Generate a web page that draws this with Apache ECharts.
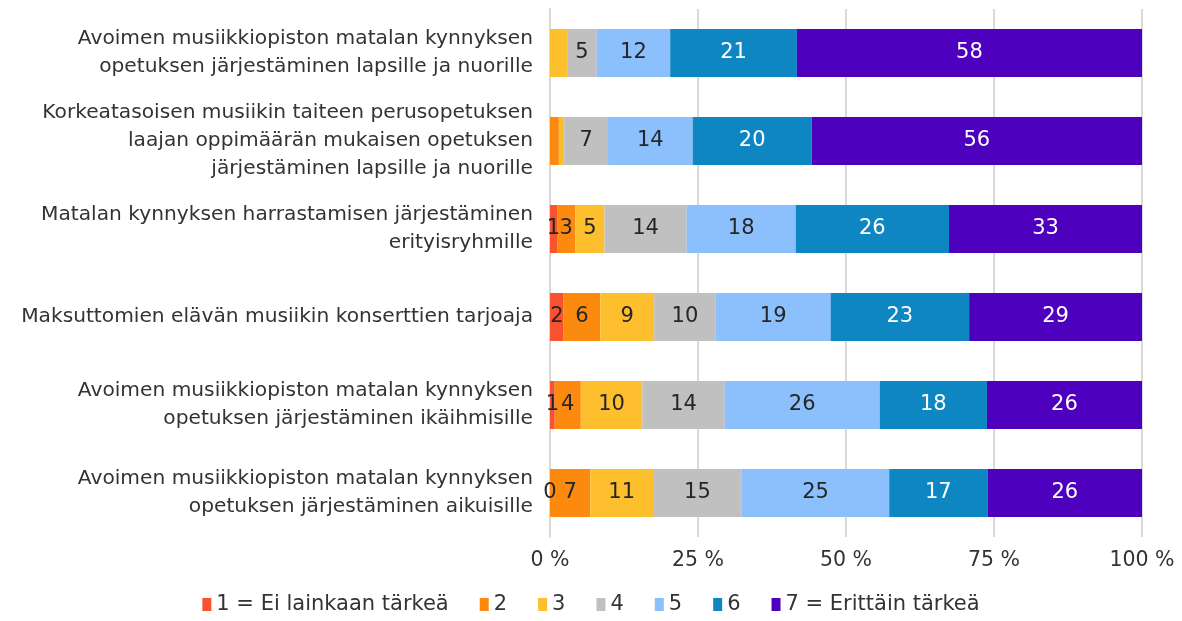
<!DOCTYPE html>
<html>
<head>
<meta charset="utf-8">
<script src="https://cdn.jsdelivr.net/npm/echarts@6/dist/echarts.min.js"></script>
<style>
html,body{margin:0;padding:0;background:#fff;}
#chart{width:1182px;height:621px;}
</style>
</head>
<body>
<div id="chart"></div>
<script>
const categories = [
  "Avoimen musiikkiopiston matalan kynnyksen\nopetuksen järjestäminen lapsille ja nuorille",
  "Korkeatasoisen musiikin taiteen perusopetuksen\nlaajan oppimäärän mukaisen opetuksen\njärjestäminen lapsille ja nuorille",
  "Matalan kynnyksen harrastamisen järjestäminen\nerityisryhmille",
  "Maksuttomien elävän musiikin konserttien tarjoaja",
  "Avoimen musiikkiopiston matalan kynnyksen\nopetuksen järjestäminen ikäihmisille",
  "Avoimen musiikkiopiston matalan kynnyksen\nopetuksen järjestäminen aikuisille"
];
const seriesNames = ["1 = Ei lainkaan tärkeä", "2", "3", "4", "5", "6", "7 = Erittäin tärkeä"];
const s1 = [null, null, 1.2, 2.3, 0.8, 0];
const s2 = [null, 1.5, 3.1, 6.2, 4.4, 6.8];
const s3 = [2.9, 0.9, 4.9, 9.1, 10.4, 10.6];
const s4 = [5.0, 7.4, 13.9, 10.4, 13.9, 15.0];
const s5 = [12.4, 14.3, 18.4, 19.4, 26.2, 24.9];
const s6 = [21.4, 20.1, 25.9, 23.4, 18.1, 16.6];
const s7 = [58.3, 55.8, 32.6, 29.2, 26.2, 26.1];
// labels not shown in the original: [seriesIndex, categoryIndex]
const hiddenLabels = [[2, 0], [1, 1], [2, 1]];
const xTicks = [0, 25, 50, 75, 100];

const FONT = 'DejaVu Sans';
const colors = ["#F8522F", "#FB8A0E", "#FDBF2D", "#C0C0C0", "#8CC0FD", "#0E86C2", "#4E00BF"];
const labelColors = ["#262626", "#262626", "#262626", "#262626", "#262626", "#ffffff", "#ffffff"];
const allValues = [s1, s2, s3, s4, s5, s6, s7];

const series = allValues.map((vals, si) => ({
  name: seriesNames[si],
  type: 'bar',
  stack: 'total',
  barWidth: 48,
  itemStyle: { color: colors[si] },
  label: {
    show: true,
    position: 'inside',
    color: labelColors[si],
    fontSize: 21,
    fontFamily: FONT,
    formatter: p => (p.value === null || p.value === undefined) ? '' : String(Math.round(p.value))
  },
  data: vals.map((v, ci) => {
    const hide = hiddenLabels.some(h => h[0] === si && h[1] === ci);
    return hide ? { value: v, label: { show: false } } : v;
  })
}));

const chart = echarts.init(document.getElementById('chart'));
chart.setOption({
  animation: false,
  textStyle: { fontFamily: FONT },
  grid: { left: 550, right: 40, top: 9, bottom: 84, containLabel: false },
  legend: {
    bottom: 1,
    left: 'center',
    icon: 'rect',
    itemWidth: 9,
    itemHeight: 13,
    itemGap: 31,
    textStyle: { fontSize: 21, color: '#333333', fontFamily: FONT },
    data: seriesNames
  },
  xAxis: {
    type: 'value',
    min: 0,
    max: 100,
    interval: 25,
    axisLine: { show: false },
    axisTick: { show: false },
    splitLine: { show: true, lineStyle: { color: '#D9D9D9', width: 2 } },
    axisLabel: {
      fontSize: 20.5,
      color: '#333333',
      margin: 13,
      formatter: v => xTicks.includes(v) ? v + ' %' : ''
    }
  },
  yAxis: {
    type: 'category',
    inverse: true,
    data: categories,
    axisLine: { show: true, lineStyle: { color: '#D9D9D9', width: 2 } },
    axisTick: { show: false },
    axisLabel: {
      fontSize: 20.2,
      color: '#333333',
      margin: 17,
      lineHeight: 28,
      align: 'right'
    }
  },
  series: series
});
</script>
</body>
</html>
